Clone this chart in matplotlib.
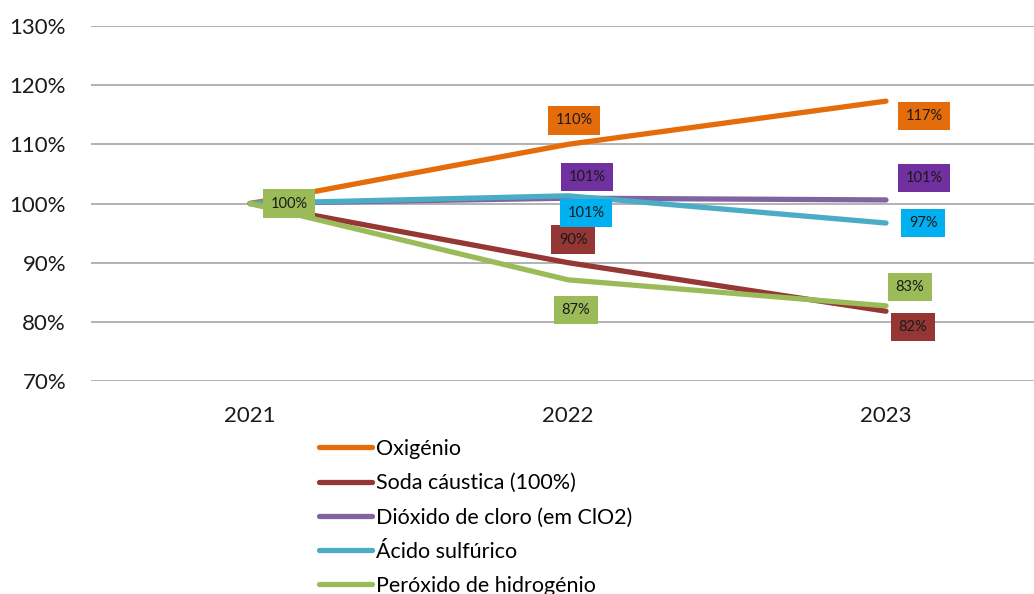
import matplotlib.pyplot as plt
import numpy as np

plt.rcParams['font.family'] = ['Lato', 'DejaVu Sans']

years = ['2021', '2022', '2023']
series_names = ['Oxigénio', 'Soda cáustica (100%)', 'Dióxido de cloro (em ClO2)',
                'Ácido sulfúrico', 'Peróxido de hidrogénio']
oxigenio = [1.00, 1.10, 1.173]
soda = [1.00, 0.90, 0.818]
dioxido = [1.00, 1.009, 1.006]
acido = [1.00, 1.013, 0.967]
peroxido = [1.00, 0.871, 0.827]
values = [oxigenio, soda, dioxido, acido, peroxido]

line_colors = ['#E46C0A', '#953735', '#8064A2', '#4BACC6', '#9BBB59']
box_colors = ['#E46C0A', '#943634', '#7030A0', '#00B0F0', '#9BBB59']

# label offsets in pixels (dx, dy upward) per series per year
offsets = [
    [(39, 0), (6, 24), (38, -15)],
    [(39, 0), (5, 23), (27, -16)],
    [(39, 0), (19, 21), (38, 22)],
    [(39, 0), (18, -17), (37, 0)],
    [(39, 0), (8, -30), (24, 19)],
]

fig = plt.figure(figsize=(10.34, 5.94), dpi=100)
ax = fig.add_axes([91 / 1034, 213 / 594, 954 / 1034, 355 / 594])

x = np.arange(len(years))
for name, vals, c in zip(series_names, values, line_colors):
    ax.plot(x, vals, color=c, lw=3.8, solid_capstyle='round',
            solid_joinstyle='round', label=name, zorder=3)

for vals, bc, offs in zip(values, box_colors, offsets):
    for xi, v, (dx, dy) in zip(x, vals, offs):
        ax.annotate(f'{v * 100:.0f}%', (xi, v), xytext=(dx * 0.72, dy * 0.72),
                    textcoords='offset points', ha='center', va='center',
                    fontsize=10.5, color='#1a1a1a', zorder=5,
                    bbox=dict(boxstyle='square,pad=0.5', fc=bc, ec='none'))

ax.set_xlim(-0.5, 2.5)
ax.set_ylim(0.7, 1.3)
ax.set_yticks(np.arange(0.7, 1.31, 0.1))
ax.set_yticklabels([f'{t}%' for t in range(70, 131, 10)])
ax.set_xticks(x)
ax.set_xticklabels(years)
ax.tick_params(axis='both', length=0, labelsize=16, colors='#1a1a1a')
ax.tick_params(axis='y', pad=18)
ax.tick_params(axis='x', pad=18)
ax.grid(axis='y', color='#A6A6A6', lw=1.2)
ax.set_axisbelow(True)
for s in ax.spines.values():
    s.set_visible(False)

fig.legend(loc='upper left', bbox_to_anchor=(319 / 1034, (594 - 439) / 594),
           frameon=False, fontsize=15.5, handlelength=2.45, handletextpad=0.2,
           labelspacing=0.66, borderpad=0, borderaxespad=0)

fig.savefig('out.png', dpi=100)
